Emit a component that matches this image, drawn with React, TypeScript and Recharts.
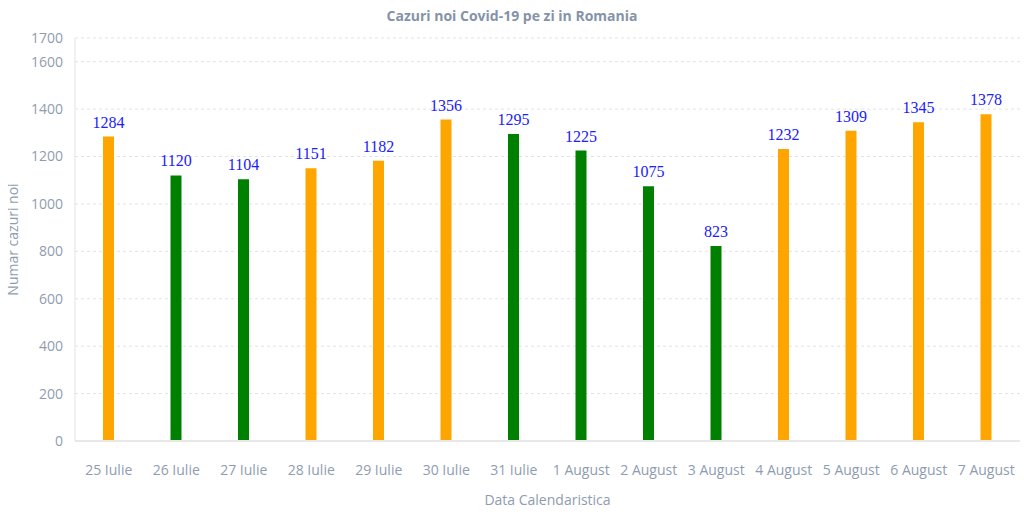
import React from 'react'
import { BarChart, Bar, XAxis, YAxis, CartesianGrid, Cell, LabelList, Label } from 'recharts'

const days = [
  '25 Iulie', '26 Iulie', '27 Iulie', '28 Iulie', '29 Iulie', '30 Iulie', '31 Iulie',
  '1 August', '2 August', '3 August', '4 August', '5 August', '6 August', '7 August'
]
const cases = [1284, 1120, 1104, 1151, 1182, 1356, 1295, 1225, 1075, 823, 1232, 1309, 1345, 1378]
const yTicks = [0, 200, 400, 600, 800, 1000, 1200, 1400, 1600, 1700]

const UP = '#FFA500'
const DOWN = '#008000'
const AXIS_TEXT = '#8f9cb0'
const FONT = '"Open Sans", sans-serif'

// bar is green when the count dropped vs the previous day
const data = days.map((day, i) => ({
  day,
  cases: cases[i],
  color: i > 0 && cases[i] < cases[i - 1] ? DOWN : UP
}))

const App = () => {
  return (
    <div style={{ position: 'absolute', left: 0, top: 0, width: 1024, height: 512, background: '#fff' }}>
      <div
        style={{
          position: 'absolute', top: 6, left: 0, width: 1024, textAlign: 'center',
          fontFamily: FONT, fontWeight: 700, fontSize: 14, color: '#8593a8'
        }}
      >
        Cazuri noi Covid-19 pe zi in Romania
      </div>
      <BarChart width={1024} height={512} data={data} margin={{ top: 38, right: 4, bottom: 7, left: 30 }}>
        <CartesianGrid vertical={false} stroke="#e3e3e3" strokeDasharray="3 3" />
        <XAxis
          dataKey="day"
          height={64}
          tickLine={false}
          tickSize={0}
          tickMargin={24}
          axisLine={{ stroke: '#e8e8e8', strokeWidth: 2 }}
          tick={{ fill: AXIS_TEXT, fontSize: 14, fontFamily: FONT }}
          interval={0}
        >
          <Label value="Data Calendaristica" position="insideBottom" offset={0} fill={AXIS_TEXT} fontSize={14} fontFamily={FONT} />
        </XAxis>
        <YAxis
          width={45}
          domain={[0, 1700]}
          ticks={yTicks}
          tickLine={false}
          tickSize={0}
          tickMargin={12}
          axisLine={{ stroke: '#e3e3e3' }}
          tick={{ fill: AXIS_TEXT, fontSize: 14, fontFamily: FONT }}
          label={({ viewBox }: any) => (
            <text
              x={12}
              y={viewBox.y + viewBox.height / 2}
              transform={`rotate(-90, 12, ${viewBox.y + viewBox.height / 2})`}
              textAnchor="middle"
              dominantBaseline="central"
              fill={AXIS_TEXT}
              fontSize={14}
              fontFamily={FONT}
            >
              Numar cazuri noi
            </text>
          )}
        />
        <Bar dataKey="cases" barSize={11} isAnimationActive={false}>
          {data.map((d, i) => (
            <Cell key={`cell-${i}`} fill={d.color} />
          ))}
          <LabelList
            dataKey="cases"
            position="top"
            offset={9}
            fill="#2020ff"
            fontSize={16}
            fontFamily='"Liberation Serif", "Times New Roman", serif'
          />
        </Bar>
      </BarChart>
    </div>
  )
}

export default App
